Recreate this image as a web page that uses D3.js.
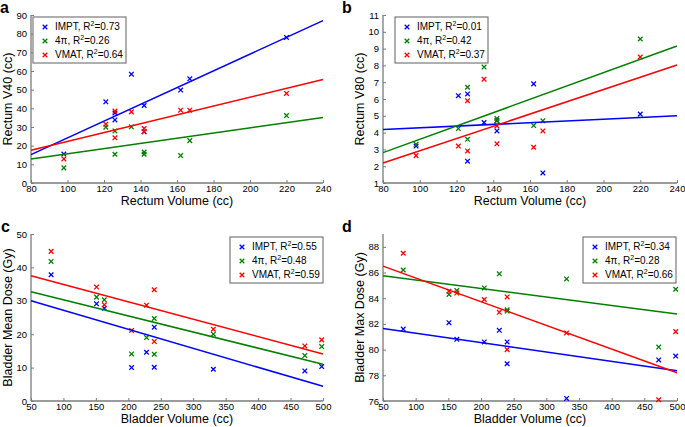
<!DOCTYPE html>
<html>
<head>
<meta charset="utf-8">
<script src="https://cdn.jsdelivr.net/npm/d3@7"></script>
<style>
  body { margin: 0; background: #fff; }
  svg { font-family: "Liberation Sans", Arial, sans-serif; }
</style>
</head>
<body>
<svg id="chart" width="685" height="427"></svg>
<script>
// patient volumes (cc)
var rectumVol  = [98, 121, 126, 126, 135, 142, 142, 162, 167, 220];
var bladderVol = [81, 151, 163, 205, 228, 240, 240, 331, 472, 498];

// rectum V40 (cc)
var v40Impt   = [15.5, 43.5, 33.8, 37.5, 58.3, 41.5, 27.5, 49.8, 55.8, 78];
var v40FourPi = [8.1, 29.9, 27.9, 15.4, 30.1, 16.6, 15.4, 14.7, 22.7, 36.1];
var v40Vmat   = [12.9, 31.5, 38.5, 24.2, 38.1, 29.2, 27.4, 39, 39, 48];

// rectum V80 (cc)
var v80Impt   = [3.2, 6.2, 6.3, 2.3, 4.6, 4.7, 4.1, 6.9, 1.6, 5.1];
var v80FourPi = [3.3, 4.24, 6.7, 3.6, 7.9, 4.84, 4.7, 4.42, 4.7, 9.57];
var v80Vmat   = [2.63, 3.2, 5.89, 2.91, 7.18, 4.4, 3.33, 3.13, 4.1, 8.5];

// bladder mean dose (Gy)
var meanImpt   = [37.8, 29.1, 27.8, 10, 14.6, 22.1, 10.1, 9.5, 9, 10.3];
var meanFourPi = [41.8, 31.1, 30.3, 14.1, 19, 24.7, 14, 20, 13.6, 16.3];
var meanVmat   = [44.8, 34.1, 28.8, 21.1, 28.7, 33.3, 17.8, 21.5, 16.5, 18.3];

// bladder max dose (Gy)
var maxImpt   = [81.6, 82.1, 80.8, 80.6, 81.5, 80.6, 78.9, 76.2, 79.2, 79.5];
var maxFourPi = [86.2, 84.3, 84.6, 84.8, 85.9, 83.0, 83.1, 85.5, 80.2, 84.7];
var maxVmat   = [87.5, 84.55, 84.4, 83.9, 82.9, 84.1, 80.0, 81.3, 76.1, 81.4];

// fitted lines: value at left and right end of x range [impt, 4pi, vmat]
var v40Fit  = [[15.2, 87], [12.9, 35.1], [17.5, 55.5]];
var v80Fit  = [[4.18, 5.0], [2.81, 9.15], [2.19, 8.02]];
var meanFit = [[30, 4.4], [32.7, 11], [37.5, 14.1]];
var maxFit  = [[81.65, 78.35], [85.75, 82.77], [86.5, 78.2]];

var v40R2  = ['0.73', '0.26', '0.64'];
var v80R2  = ['0.01', '0.42', '0.37'];
var meanR2 = ['0.55', '0.48', '0.59'];
var maxR2  = ['0.34', '0.28', '0.66'];

var seriesNames = ['IMPT', '4\u03c0', 'VMAT'];
var colors = ['#0000ff', '#008000', '#ff0000'];

var svg = d3.select('#chart');

function cross(g, x, y, color) {
  var s = 2.3;
  g.append('path')
    .attr('d', 'M' + (x - s) + ',' + (y - s) + 'L' + (x + s) + ',' + (y + s) +
               'M' + (x - s) + ',' + (y + s) + 'L' + (x + s) + ',' + (y - s))
    .attr('stroke', color)
    .attr('stroke-width', 1.3)
    .attr('fill', 'none');
}

function drawPanel(p) {
  var g = svg.append('g');
  var x = d3.scaleLinear().domain(p.xDomain).range([p.left, p.right]);
  var y = d3.scaleLinear().domain(p.yDomain).range([p.bottom, p.top]);

  // axes, matlab style: ticks inside, no box
  var xAxis = d3.axisBottom(x).tickValues(p.xTicks).tickSizeInner(-3).tickSizeOuter(0).tickPadding(2);
  var yAxis = d3.axisLeft(y).tickValues(p.yTicks).tickSizeInner(-3).tickSizeOuter(0).tickPadding(4);

  var gx = g.append('g').attr('transform', 'translate(0,' + p.bottom + ')').call(xAxis);
  var gy = g.append('g').attr('transform', 'translate(' + p.left + ',0)').call(yAxis);
  [gx, gy].forEach(function (a) {
    a.select('.domain').attr('stroke', '#7a7a7a').attr('stroke-width', 1.3);
    a.selectAll('.tick line').attr('stroke', '#7a7a7a');
    a.selectAll('.tick text').attr('font-size', 9.5).attr('fill', '#000')
      .attr('font-family', '"Liberation Sans", Arial, sans-serif');
  });
  gy.select('.domain').attr('d', 'M0,' + p.bottom + 'V' + p.top);
  gx.select('.domain').attr('d', 'M' + p.left + ',0H' + p.right);

  // points
  p.series.forEach(function (vals, k) {
    vals.forEach(function (v, i) {
      cross(g, x(p.xs[i]), y(v), colors[k]);
    });
  });

  // fit lines
  var line = d3.line().x(function (d) { return x(d[0]); }).y(function (d) { return y(d[1]); });
  p.fits.forEach(function (f, k) {
    g.append('path')
      .datum([[p.xDomain[0], f[0]], [p.xDomain[1], f[1]]])
      .attr('d', line)
      .attr('stroke', colors[k])
      .attr('stroke-width', 1.5)
      .attr('fill', 'none');
  });

  // labels
  g.append('text')
    .attr('x', (p.left + p.right) / 2).attr('y', p.bottom + 22)
    .attr('text-anchor', 'middle').attr('font-size', 12.5)
    .text(p.xLabel);
  g.append('text')
    .attr('transform', 'translate(' + (p.left - 19) + ',' + ((p.top + p.bottom) / 2) + ') rotate(-90)')
    .attr('text-anchor', 'middle').attr('font-size', 12.5)
    .text(p.yLabel);
  g.append('text')
    .attr('x', p.letterX).attr('y', p.letterY)
    .attr('font-size', 16).attr('font-weight', 'bold')
    .text(p.letter);

  // legend
  var lg = g.append('g').attr('transform', 'translate(' + p.legend[0] + ',' + p.legend[1] + ')');
  lg.append('rect').attr('width', 93).attr('height', 46)
    .attr('fill', '#fff').attr('stroke', '#7a7a7a').attr('stroke-width', 1.2);
  seriesNames.forEach(function (name, k) {
    var ry = 13 + k * 14;
    cross(lg, 12, ry - 3, colors[k]);
    var t = lg.append('text').attr('x', 22).attr('y', ry).attr('font-size', 10);
    t.append('tspan').text(name + ', R');
    t.append('tspan').attr('font-size', 7).attr('dy', -4).text('2');
    t.append('tspan').attr('dy', 4).text('=' + p.r2[k]);
  });
}

drawPanel({
  letter: 'a', letterX: 0, letterY: 13,
  left: 31, right: 323, top: 15, bottom: 183,
  xDomain: [80, 240], yDomain: [0, 90],
  xTicks: d3.range(80, 241, 20), yTicks: d3.range(0, 91, 10),
  xs: rectumVol, series: [v40Impt, v40FourPi, v40Vmat], fits: v40Fit, r2: v40R2,
  xLabel: 'Rectum Volume (cc)', yLabel: 'Rectum V40 (cc)', legend: [33, 17]
});

drawPanel({
  letter: 'b', letterX: 342, letterY: 13,
  left: 383, right: 677, top: 15, bottom: 183,
  xDomain: [80, 240], yDomain: [1, 11],
  xTicks: d3.range(80, 241, 20), yTicks: d3.range(1, 12, 1),
  xs: rectumVol, series: [v80Impt, v80FourPi, v80Vmat], fits: v80Fit, r2: v80R2,
  xLabel: 'Rectum Volume (cc)', yLabel: 'Rectum V80 (cc)', legend: [395, 17]
});

drawPanel({
  letter: 'c', letterX: 1, letterY: 232,
  left: 31, right: 323, top: 234, bottom: 401,
  xDomain: [50, 500], yDomain: [0, 50],
  xTicks: d3.range(50, 501, 50), yTicks: d3.range(0, 51, 10),
  xs: bladderVol, series: [meanImpt, meanFourPi, meanVmat], fits: meanFit, r2: meanR2,
  xLabel: 'Bladder Volume (cc)', yLabel: 'Bladder Mean Dose (Gy)', legend: [230, 237]
});

drawPanel({
  letter: 'd', letterX: 342, letterY: 232,
  left: 383, right: 677, top: 234, bottom: 401,
  xDomain: [50, 500], yDomain: [76, 89],
  xTicks: d3.range(50, 501, 50), yTicks: d3.range(76, 89, 2),
  xs: bladderVol, series: [maxImpt, maxFourPi, maxVmat], fits: maxFit, r2: maxR2,
  xLabel: 'Bladder Volume (cc)', yLabel: 'Bladder Max Dose (Gy)', legend: [583, 237]
});
</script>
</body>
</html>
